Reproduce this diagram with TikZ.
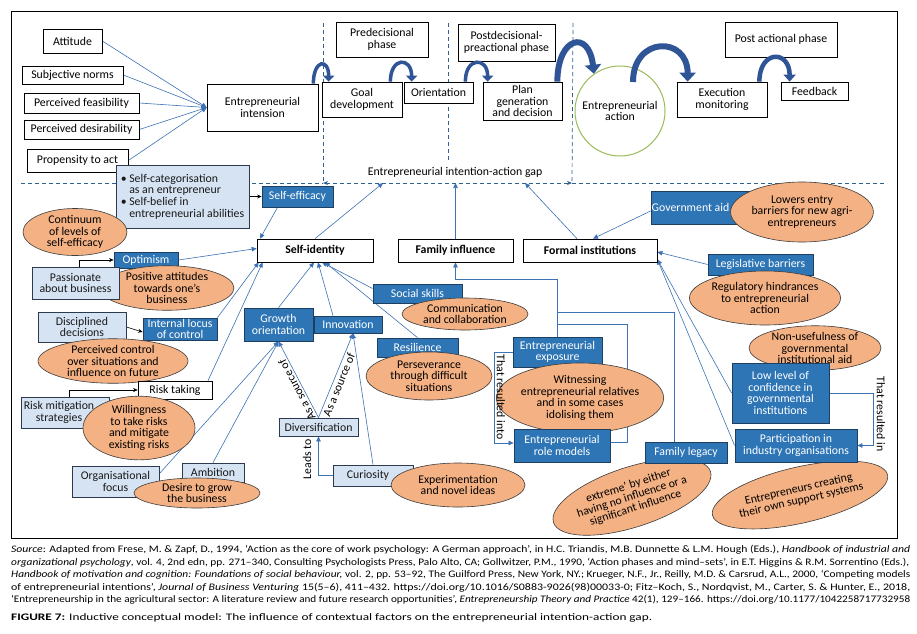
\documentclass[tikz,border=0pt]{standalone}
\usepackage{fontspec}
\setmainfont{Carlito}
\usepackage{graphicx}
\usetikzlibrary{shapes.geometric,arrows.meta,calc}
\pgfdeclarelayer{background}
\pgfsetlayers{background,main}
\definecolor{dblue}{HTML}{2E75B6}
\definecolor{dborder}{HTML}{1F3F60}
\definecolor{lblue}{HTML}{D5E3F3}
\definecolor{lborder}{HTML}{2B3A4E}
\definecolor{orangef}{HTML}{F4B183}
\definecolor{oborder}{HTML}{3C3C3C}
\definecolor{cblue}{HTML}{3D72B4}
\definecolor{arcblue}{HTML}{2F5597}
\definecolor{dashblue}{HTML}{2E6090}
\definecolor{cgreen}{HTML}{9BBB59}
\newcommand{\boxfont}{\fontsize{11.8}{11.6}\selectfont}
\newcommand{\capfont}{\fontsize{10}{12}\selectfont}
\tikzset{
 tbase/.style={font=\boxfont, align=center, inner sep=0pt},
 wbox/.style={tbase, draw=black, fill=white, line width=0.7pt},
 bwbox/.style={wbox, font=\boxfont\bfseries},
 dbox/.style={tbase, draw=dborder, fill=dblue, text=white, line width=0.8pt},
 lbox/.style={tbase, draw=lborder, fill=lblue, text=black!90, line width=0.8pt},
 oell/.style={tbase, ellipse, draw=oborder, fill=orangef, line width=0.6pt},
 conn/.style={draw=cblue, line width=0.6pt, -{Triangle[length=5pt,width=4.5pt]}},
 bconn/.style={draw=black, line width=0.6pt, -{Stealth[length=4.5pt,width=4pt]}},
 cline/.style={draw=cblue, line width=0.7pt},
 bigarc/.style={draw=arcblue, fill=none},
 gapline/.style={draw=dashblue, line width=0.7pt, dash pattern=on 4pt off 3pt},
 lbl/.style={font=\boxfont, inner sep=1pt},
 capline/.style={anchor=west, inner sep=0pt, text height=7pt, text depth=2pt, font=\capfont},
}
\begin{document}
\begin{tikzpicture}[x=1pt,y=-1pt]
\useasboundingbox (0,0) rectangle (917,633);
\begin{pgfonlayer}{background}
\fill[white] (0,0) rectangle (917,633);
\end{pgfonlayer}
\draw[line width=0.8pt] (11,11) rectangle (897,538);

% dashed gap lines
\coordinate (dl) at (21,183);
\coordinate (dr) at (887,183);
\coordinate (gL) at (323,183);
\coordinate (gR) at (572,183);
\coordinate (gA) at (383,183);
\coordinate (gB) at (455.5,183);
\coordinate (gC) at (525,183);
\coordinate (v1t) at (323,23);
\coordinate (v2t) at (448,23);
\coordinate (v2b) at (448,160);
\coordinate (v3t) at (573,23);
\draw[gapline] (dl) -- (gL);
\draw[gapline] (gR) -- (dr);
\draw[gapline, {Stealth[length=5pt,width=4pt]}-{Stealth[length=5pt,width=4pt]}] (gL) -- (gR);
\draw[gapline] (v1t) -- (gL);
\draw[gapline] (v2t) -- (v2b);
\draw[gapline] (v3t) -- (gR);
\node[lbl] (gaptxt) at (455,172) {Entrepreneurial intention-action gap};

% top row
\node[wbox, minimum width=59pt, minimum height=24pt] (att) at (72.5,41) {Attitude};
\node[wbox, minimum width=101pt, minimum height=18pt] (subj) at (72.5,75) {Subjective norms};
\node[wbox, minimum width=115pt, minimum height=20pt] (feas) at (81.5,103) {Perceived feasibility};
\node[wbox, minimum width=115pt, minimum height=19pt] (desir) at (81.5,129.5) {Perceived desirability};
\node[wbox, minimum width=101pt, minimum height=23pt] (prop) at (77.5,160.5) {Propensity to act};
\node[wbox, minimum width=111pt, minimum height=47pt] (intn) at (262.5,107.5) {Entrepreneurial\\intension};
\node[wbox, minimum width=92pt, minimum height=35pt] (predec) at (382,39.5) {Predecisional\\phase};
\node[wbox, minimum width=80pt, minimum height=35pt] (goal) at (362,99.5) {Goal\\development};
\node[wbox, minimum width=69pt, minimum height=21pt] (orient) at (438.5,92.5) {Orientation};
\node[wbox, minimum width=97pt, minimum height=37pt] (postdec) at (506.5,42.5) {Postdecisional-\\preactional phase};
\node[wbox, minimum width=79pt, minimum height=38pt] (plan) at (522.5,101) {Plan\\generation\\and decision};
\node[tbase, circle, draw=cgreen, line width=1pt, minimum size=90pt] (action) at (620,111) {Entrepreneurial\\action};
\node[wbox, minimum width=90pt, minimum height=35pt] (exec) at (722,99.5) {Execution\\monitoring};
\node[wbox, minimum width=112pt, minimum height=35pt] (postact) at (781,39.5) {Post actional phase};
\node[wbox, minimum width=67pt, minimum height=18pt] (fb) at (814.5,91) {Feedback};

% middle
\node[lbox, minimum width=133pt, minimum height=63pt, align=left] (bul) at (182.5,196.5)
 {\textbullet\ Self-categorisation\\\hphantom{\textbullet\ }as an entrepreneur\\\textbullet\ Self-belief in\\\hphantom{\textbullet\ }entrepreneurial abilities};
\node[dbox, minimum width=71pt, minimum height=21pt] (seff) at (297.5,196.5) {Self-efficacy};
\node[bwbox, minimum width=116pt, minimum height=23pt] (selfid) at (315,250.5) {Self-identity};
\node[bwbox, minimum width=115pt, minimum height=23pt] (famin) at (455.5,250.5) {Family influence};
\node[bwbox, minimum width=134pt, minimum height=23pt] (formal) at (590,250.5) {Formal institutions};
\node[oell, minimum width=104pt, minimum height=40pt] (contin) at (75,232) {Continuum\\of levels of\\self-efficacy};
\node[dbox, minimum width=64pt, minimum height=16pt] (optim) at (146,260) {Optimism};
\node[oell, minimum width=134pt, minimum height=40pt] (posatt) at (167,288) {Positive attitudes\\towards one’s\\business};
\node[lbox, minimum width=87pt, minimum height=32pt] (passion) at (75.5,283) {Passionate\\about business};
\node[dbox, minimum width=109pt, minimum height=33pt] (gov) at (705.5,207.5) {Government aid\hspace*{30pt}};
\node[oell, minimum width=126pt, minimum height=60pt] (lowers) at (802,212) {Lowers entry\\barriers for new agri-\\entrepreneurs};
\node[dbox, minimum width=105pt, minimum height=21pt] (legis) at (760.5,264.5) {Legislative barriers};
\node[oell, minimum width=144pt, minimum height=54pt] (regul) at (765,298) {Regulatory hindrances\\to entrepreneurial\\action};

% lower left
\node[lbox, minimum width=88pt, minimum height=30pt] (disc) at (82,327) {Disciplined\\decisions};
\node[dbox, minimum width=74pt, minimum height=22pt, font=\fontsize{11.8}{11}\selectfont] (locus) at (180,329) {Internal locus\\of control};
\node[oell, minimum width=150pt, minimum height=38pt] (pctrl) at (113,361) {Perceived control\\over situations and\\influence on future};
\node[wbox, minimum width=74pt, minimum height=18pt] (risk) at (175,390) {Risk taking};
\node[lbox, minimum width=88pt, minimum height=31pt] (rmit) at (65,412.5) {Risk mitigation\hspace*{12pt}\\strategies\hspace*{12pt}};
\node[oell, minimum width=112pt, minimum height=54pt] (will) at (139,428) {Willingness\\to take risks\\and mitigate\\existing risks};
\node[lbox, minimum width=87pt, minimum height=31pt] (org) at (115.5,481.5) {Organisational\\focus};
\node[lbox, minimum width=62pt, minimum height=19pt] (amb) at (213,472.5) {Ambition};
\node[oell, minimum width=126pt, minimum height=30pt] (desire) at (197,493) {Desire to grow\\the business};

% lower middle
\node[dbox, minimum width=69pt, minimum height=33pt] (growth) at (278.5,324.5) {Growth\\orientation};
\node[dbox, minimum width=68pt, minimum height=17pt] (innov) at (348,324.5) {Innovation};
\node[dbox, minimum width=89pt, minimum height=19pt] (social) at (417.5,293.5) {Social skills};
\node[oell, minimum width=126pt, minimum height=32pt] (comm) at (465,314) {Communication\\and collaboration};
\node[dbox, minimum width=81pt, minimum height=19pt] (resil) at (417.5,347.5) {Resilience};
\node[oell, minimum width=126pt, minimum height=48pt] (persev) at (429,376) {Perseverance\\through difficult\\situations};
\node[lbox, minimum width=79pt, minimum height=18pt] (divers) at (318.5,427) {Diversification};
\node[lbox, minimum width=80pt, minimum height=21pt] (curio) at (373,475.5) {Curiosity\hspace*{10pt}};
\node[oell, minimum width=134pt, minimum height=44pt] (exper) at (458,485) {Experimentation\\and novel ideas};

% lower right
\node[dbox, minimum width=89pt, minimum height=30pt] (entexp) at (557.5,352) {Entrepreneurial\\exposure};
\node[oell, minimum width=144pt, minimum height=70pt] (witness) at (580,398) {Witnessing\\entrepreneurial relatives\\and in some cases\\idolising them};
\node[dbox, minimum width=96pt, minimum height=33pt] (role) at (562,445.5) {Entrepreneurial\\role models};
\node[oell, rotate=18, minimum width=165pt, minimum height=60pt] (legell) at (632,497) {extreme’ by either\\having no influence or a\\significant influence};
\node[dbox, minimum width=82pt, minimum height=21pt] (famleg) at (686,452.5) {Family legacy};
\node[oell, minimum width=132pt, minimum height=44pt] (nonuse) at (815,348) {Non-usefulness of\\governmental\\institutional aid};
\node[dbox, minimum width=97pt, minimum height=60pt] (lowconf) at (780.5,393) {Low level of\\confidence in\\governmental\\institutions};
\node[oell, rotate=13, minimum width=175pt, minimum height=56pt] (create) at (800,495) {Entrepreneurs creating\\their own support systems};
\node[dbox, minimum width=122pt, minimum height=33pt] (partic) at (796,445.5) {Participation in\\industry organisations};

% rotated labels
\node[lbl, rotate=90] (leads) at (307,459) {Leads to};
\node[lbl, rotate=-90] (resinto) at (501,397) {That resulted into};
\node[lbl, rotate=-90] (resin) at (881,414) {That resulted in};

\coordinate (fj) at (558,279);
\coordinate (b1) at (674,312);
\coordinate (b2) at (627,324);

\begin{pgfonlayer}{background}
\foreach \s in {att,subj,feas,desir,prop} \draw[conn] (\s.east) -- (intn.west);
\draw[bconn] (bul.east) -- (seff.west);
\draw[conn] ([xshift=-20pt]seff.south) -- ([xshift=-55pt]selfid.north);
\draw[conn] (optim.east) -- ([yshift=2pt]selfid.west);
\draw[bconn] ([xshift=3.5pt]passion.north) |- (optim.west);
\draw[bconn] (disc.east) -- ([yshift=-3pt]locus.west);
\draw[bconn] ([xshift=4pt]rmit.north) |- (risk.west);
\draw[conn] (locus.north east) -- ([xshift=2pt]selfid.south west);
\draw[conn] ([xshift=33pt]risk.north) -- ([xshift=6pt]selfid.south west);
\draw[conn] ([yshift=-8pt]org.north east) -- (growth.south);
\draw[conn] (amb.north) -- (growth.south);
\draw[conn] (growth.north) -- ([xshift=-1pt]selfid.south);
\draw[conn] ([xshift=-15pt]innov.north) -- ([xshift=3pt]selfid.south);
\draw[conn] ([yshift=5pt]social.west) -- ([xshift=7pt]selfid.south);
\draw[conn] (resil.north) -- ([xshift=10pt]selfid.south);
\draw[conn] (selfid.north) -- (gA);
\draw[conn] (famin.north) -- (gB);
\draw[conn] ([xshift=-13pt]formal.north) -- (gC);
\draw[conn] ([yshift=-3.5pt]gov.west) -- ([xshift=3pt]formal.north);
\draw[conn] (legis.west) -- ([yshift=-1.5pt]formal.east);
\draw[conn] (lowconf.west) -- ([yshift=3pt]formal.south east);
\draw[conn] (partic.west) -- ([yshift=3pt]formal.south east);
\draw[conn] (lowconf.east) -- ++(44pt,0pt) |- (partic.east);
\draw[conn] (entexp.west) -- ++(-18pt,0pt) |- ([yshift=2.5pt]role.west);
\draw[conn] (entexp.north) -- (entexp.north |- fj) -| (famin.south);
\draw[cline] ([xshift=-12pt]famleg.north) |- (entexp.north |- b1);
\draw[cline] ([yshift=3.5pt]role.east) -| (b2) -- (entexp.north |- b2);
\draw[conn] (divers.north) -- node[lbl, pos=0.4, sloped, allow upside down, above=1pt] {As a source of} (growth.south);
\draw[conn] (divers.north) -- node[lbl, pos=0.42, sloped, allow upside down, below=1pt] {As a source of} ([xshift=5pt]innov.south);
\draw[conn] (curio.west) -| (divers.south);
\draw[conn] (curio.north) -- ([xshift=5pt]innov.south);
\end{pgfonlayer}

% thick curved arrows
\draw[bigarc, line width=3.5pt, -{Triangle[length=6pt,width=11pt]}] ([xshift=-5pt]intn.north east) .. controls +(0pt,24pt) and +(0pt,24pt) .. ([xshift=7pt]goal.north west);
\draw[bigarc, line width=3.5pt, -{Triangle[length=6pt,width=11pt]}] ([xshift=-12pt]goal.north east) .. controls +(0pt,25pt) and +(0pt,25pt) .. ([xshift=8pt]orient.north west);
\draw[bigarc, line width=3.5pt, -{Triangle[length=6pt,width=11pt]}] ([xshift=-8pt]orient.north east) .. controls +(0pt,25pt) and +(0pt,25pt) .. ([xshift=5pt]plan.north west);
\draw[bigarc, line width=6pt, -{Triangle[length=9pt,width=16pt]}] ([xshift=-5pt]plan.north east) .. controls +(0pt,45pt) and +(-5pt,45pt) .. (action.125);
\draw[bigarc, line width=6pt, -{Triangle[length=9pt,width=16pt]}] ([shift={(13pt,29pt)}]action.center) .. controls +(0pt,46pt) and +(0pt,46pt) .. ([xshift=11pt]exec.north west);
\draw[bigarc, line width=4.5pt, -{Triangle[length=7pt,width=12pt]}] ([xshift=-8pt]exec.north east) .. controls +(0pt,32pt) and +(0pt,32pt) .. ([xshift=9pt]fb.north west);

% caption
\node[capline] (cap1) at (11,550) {\resizebox{899pt}{\height}{\textit{Source}: Adapted from Frese, M. \& Zapf, D., 1994, ‘Action as the core of work psychology: A German approach’, in H.C. Triandis, M.B. Dunnette \& L.M. Hough (Eds.), \textit{Handbook of industrial and}}};
\node[capline] (cap2) at (11,562.5) {\resizebox{898pt}{\height}{\textit{organizational psychology}, vol. 4, 2nd edn, pp. 271–340, Consulting Psychologists Press, Palo Alto, CA; Gollwitzer, P.M., 1990, ‘Action phases and mind–sets’, in E.T. Higgins \& R.M. Sorrentino (Eds.),}};
\node[capline] (cap3) at (11,575) {\resizebox{899pt}{\height}{\textit{Handbook of motivation and cognition: Foundations of social behaviour,} vol. 2, pp. 53–92, The Guilford Press, New York, NY.; Krueger, N.F., Jr., Reilly, M.D. \& Carsrud, A.L., 2000, ‘Competing models}};
\node[capline] (cap4) at (11,587.5) {\resizebox{899pt}{\height}{of entrepreneurial intentions’, \textit{Journal of Business Venturing} 15(5–6), 411–432. https://doi.org/10.1016/S0883-9026(98)00033-0; Fitz–Koch, S., Nordqvist, M., Carter, S. \& Hunter, E., 2018,}};
\node[capline] (cap5) at (11,600) {\resizebox{899pt}{\height}{‘Entrepreneurship in the agricultural sector: A literature review and future research opportunities’, \textit{Entrepreneurship Theory and Practice} 42(1), 129–166. https://doi.org/10.1177/1042258717732958}};
\node[capline] (cap6) at (11,618) {\resizebox{641pt}{\height}{\textbf{FIGURE 7:} Inductive conceptual model: The influence of contextual factors on the entrepreneurial intention-action gap.}};
\end{tikzpicture}
\end{document}
